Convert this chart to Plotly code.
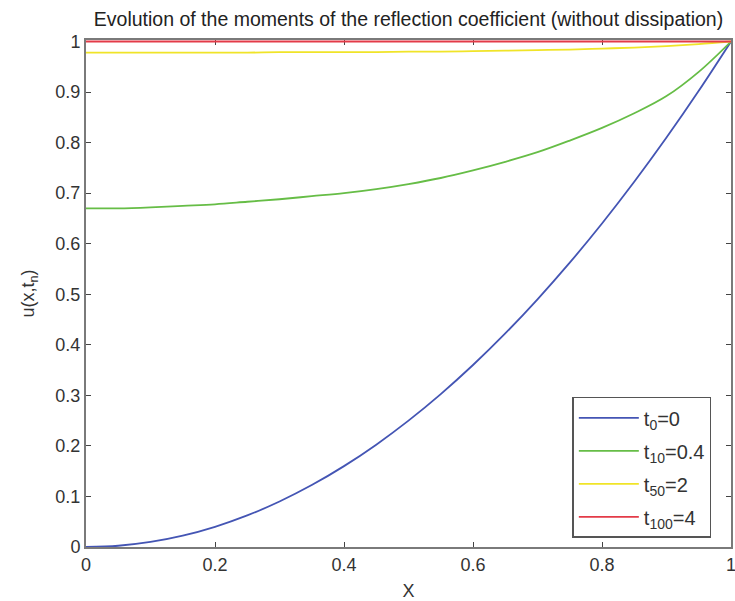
import plotly.graph_objects as go

# Sample positions along x
x_pts = [0.0, 0.05, 0.1, 0.15, 0.2, 0.25, 0.3, 0.35, 0.4, 0.45, 0.5,
         0.55, 0.6, 0.65, 0.7, 0.75, 0.8, 0.85, 0.9, 0.95, 1.0]

# Profiles u(x, t_n) at four time steps
u_t0 = [0.0, 0.0025, 0.01, 0.0225, 0.04, 0.0625, 0.09, 0.1225, 0.16, 0.2025, 0.25,
        0.3025, 0.36, 0.4225, 0.49, 0.5625, 0.64, 0.7225, 0.81, 0.9025, 1.0]
u_t10 = [0.670, 0.670, 0.672, 0.675, 0.678, 0.683, 0.688, 0.694, 0.700, 0.708, 0.718,
         0.730, 0.745, 0.762, 0.781, 0.804, 0.829, 0.858, 0.892, 0.940, 1.0]
u_t50 = [0.978, 0.978, 0.978, 0.978, 0.978, 0.978, 0.979, 0.979, 0.979, 0.979, 0.980,
         0.980, 0.981, 0.982, 0.983, 0.984, 0.986, 0.988, 0.991, 0.995, 1.0]
u_t100 = [1.0] * 21

series_names = ["t<sub>0</sub>=0", "t<sub>10</sub>=0.4", "t<sub>50</sub>=2", "t<sub>100</sub>=4"]
series_vals = [u_t0, u_t10, u_t50, u_t100]
series_colors = ["#4455b4", "#66bd46", "#f0e428", "#e33b48"]

x_ticks = [0, 0.2, 0.4, 0.6, 0.8, 1]
y_ticks = [0, 0.1, 0.2, 0.3, 0.4, 0.5, 0.6, 0.7, 0.8, 0.9, 1]

fig = go.Figure()
for i, (name, vals, col) in enumerate(zip(series_names, series_vals, series_colors)):
    fig.add_trace(go.Scatter(
        x=x_pts, y=vals, name=name, mode="lines", legendgroup=f"g{i}",
        line=dict(color=col, width=1.8, shape="spline", smoothing=1.0),
        cliponaxis=False,
    ))

font_main = "Liberation Sans, Arial, sans-serif"
axis_common = dict(
    showline=True, linecolor="#7a7a7a", linewidth=2, mirror="allticks",
    ticks="inside", ticklen=5, tickwidth=1.2, tickcolor="#444",
    showgrid=False, zeroline=False, automargin=False, layer="below traces",
    ticklabeloverflow="allow",
    tickfont=dict(family=font_main, size=18, color="#333"),
)

fig.update_layout(
    width=735, height=601,
    margin=dict(l=86, r=4, t=39.5, b=54),
    paper_bgcolor="white", plot_bgcolor="white",
    title=dict(
        text="Evolution of the moments of the reflection coefficient (without dissipation)",
        x=0.5, xref="paper", xanchor="center", y=0.968, yanchor="middle",
        font=dict(family=font_main, size=19.5, color="#222"),
    ),
    xaxis=dict(
        range=[0, 1], tickvals=x_ticks, ticktext=["0", "0.2", "0.4", "0.6", "0.8", "1"],
        title=dict(text="X", font=dict(family=font_main, size=18, color="#333"), standoff=14),
        **axis_common,
    ),
    yaxis=dict(
        range=[0, 1.003], tickvals=y_ticks,
        ticktext=["0", "0.1", "0.2", "0.3", "0.4", "0.5", "0.6", "0.7", "0.8", "0.9", "1"],
        title=dict(text="u(x,t<sub>n</sub>)", font=dict(family=font_main, size=18, color="#333"), standoff=16),
        **axis_common,
    ),
    legend=dict(
        x=0.754, y=0.018, xanchor="left", yanchor="bottom",
        bgcolor="white", bordercolor="#555", borderwidth=1.5,
        font=dict(family=font_main, size=20, color="#333"),
        itemwidth=60, tracegroupgap=4, traceorder="grouped",
    ),
    showlegend=True,
)

fig.write_html("out.html")
